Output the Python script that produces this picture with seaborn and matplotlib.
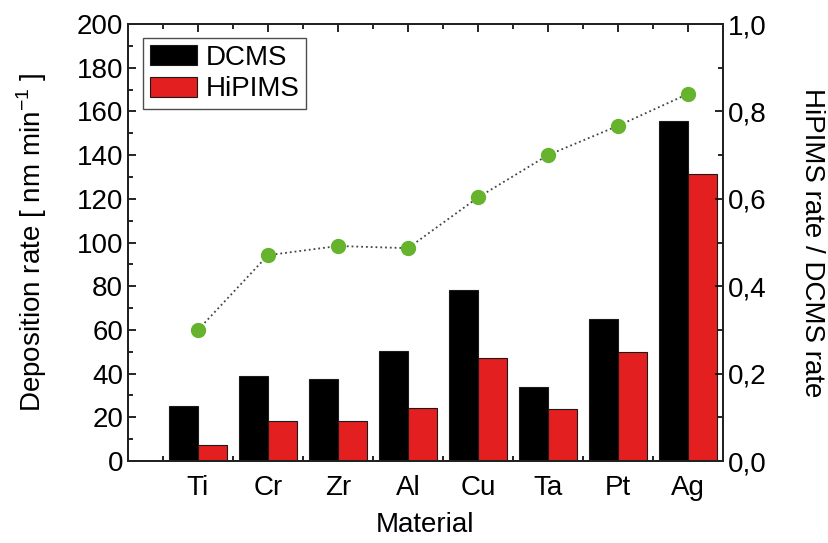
import numpy as np
import pandas as pd
import matplotlib
matplotlib.use("Agg")
import matplotlib.pyplot as plt
import seaborn as sns
from matplotlib.ticker import MultipleLocator, FixedLocator, FuncFormatter

# Data
materials = ["Ti", "Cr", "Zr", "Al", "Cu", "Ta", "Pt", "Ag"]
dcms_rate = [25.0, 39.0, 37.5, 50.5, 78.3, 33.7, 64.8, 155.6]
hipims_rate = [7.3, 18.3, 18.3, 24.4, 47.3, 23.6, 49.7, 131.2]
rate_ratio = [0.30, 0.471, 0.492, 0.487, 0.603, 0.700, 0.767, 0.840]

sns.set_style("ticks")
plt.rcParams['font.family'] = ['Liberation Sans', 'DejaVu Sans']
plt.rcParams['font.size'] = 20
plt.rcParams['text.color'] = 'black'
plt.rcParams['axes.labelcolor'] = 'black'
plt.rcParams['xtick.color'] = 'black'
plt.rcParams['ytick.color'] = 'black'
plt.rcParams['axes.edgecolor'] = '#222222'

df = pd.DataFrame({
    'Material': materials * 2,
    'rate': dcms_rate + hipims_rate,
    'mode': ['DCMS'] * len(materials) + ['HiPIMS'] * len(materials),
})

fig = plt.figure(figsize=(8.29, 5.43), dpi=100)
ax = fig.add_axes([0.1544, 0.151, 0.7177, 0.8048])

sns.barplot(data=df, x='Material', y='rate', hue='mode', ax=ax,
            palette=['black', '#e3201f'], width=0.82, saturation=1,
            edgecolor='#1a1a1a', linewidth=0.8)

ax.set_xlim(-1, 7.5)
ax.set_ylim(0, 200)
ax.xaxis.set_major_locator(FixedLocator(range(len(materials))))
ax.set_xticklabels(materials)
ax.xaxis.set_minor_locator(FixedLocator(np.arange(-0.5, 7.6, 1.0)))
ax.yaxis.set_major_locator(MultipleLocator(20))
ax.yaxis.set_minor_locator(MultipleLocator(10))
ax.tick_params(which='both', direction='in', top=True, width=1.2, labelsize=20)
ax.tick_params(which='major', length=6)
ax.tick_params(which='minor', length=3.5)
ax.tick_params(axis='x', pad=10)
ax.set_xlabel('Material', fontsize=20, labelpad=8)
ax.set_ylabel('Deposition rate [ nm min$^{\\mathregular{-1}}$ ]', fontsize=20, labelpad=20)

leg = ax.legend(loc='upper left', bbox_to_anchor=(0.025, 0.968), fontsize=20,
                borderaxespad=0, frameon=True, fancybox=False, edgecolor='#222222',
                handlelength=1.7, handleheight=0.75, borderpad=0.25,
                labelspacing=0.2, handletextpad=0.3)
leg.get_frame().set_linewidth(1.0)

ax2 = ax.twinx()
ax2.plot(np.arange(len(materials)), rate_ratio, linestyle=':', color='#444444',
         linewidth=1.3, marker='o', markersize=10, markerfacecolor='#66b32e',
         markeredgecolor='#66b32e', zorder=5)
ax2.set_ylim(0, 1.0)
ax2.yaxis.set_major_locator(MultipleLocator(0.2))
ax2.yaxis.set_minor_locator(MultipleLocator(0.1))
ax2.yaxis.set_major_formatter(FuncFormatter(lambda v, p: f"{v:.1f}".replace('.', ',')))
ax2.tick_params(which='both', direction='in', width=1.2, labelsize=20)
ax2.tick_params(which='major', length=6)
ax2.tick_params(which='minor', length=3.5)
ax2.set_ylabel('HiPIMS rate / DCMS rate', fontsize=20, rotation=270, labelpad=42)

for a in (ax, ax2):
    for s in a.spines.values():
        s.set_linewidth(1.4)

fig.savefig('out.png', dpi=100)
